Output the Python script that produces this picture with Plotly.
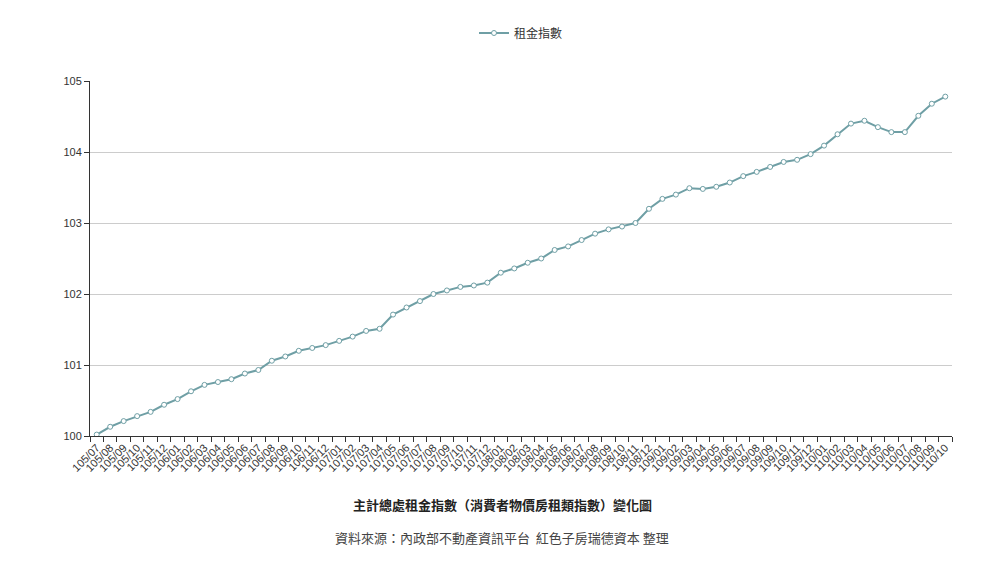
import plotly.graph_objects as go

# 月份（民國年/月）
months = []
for yr, m_from, m_to in [(105, 7, 12), (106, 1, 12), (107, 1, 12), (108, 1, 12), (109, 1, 12), (110, 1, 10)]:
    for m in range(m_from, m_to + 1):
        months.append("%d/%02d" % (yr, m))

rent_index = [
    100.02, 100.13, 100.21, 100.28, 100.34, 100.44,
    100.52, 100.63, 100.72, 100.76, 100.80, 100.88, 100.93, 101.06, 101.12, 101.20, 101.24, 101.28,
    101.34, 101.40, 101.48, 101.51, 101.71, 101.81, 101.90, 102.00, 102.05, 102.10, 102.12, 102.16,
    102.30, 102.36, 102.44, 102.50, 102.62, 102.67, 102.76, 102.85, 102.91, 102.95, 103.00, 103.20,
    103.34, 103.40, 103.49, 103.48, 103.51, 103.57, 103.66, 103.72, 103.79, 103.86, 103.89, 103.97,
    104.09, 104.25, 104.40, 104.44, 104.35, 104.28, 104.28, 104.51, 104.68, 104.78,
]

line_color = "#6f9fa5"
font_name = "Liberation Sans, Noto Sans CJK TC, sans-serif"

fig = go.Figure()
fig.add_trace(go.Scatter(
    x=months, y=rent_index, mode="lines+markers", name="租金指數",
    line=dict(color=line_color, width=2),
    marker=dict(symbol="circle", size=5, color="white", line=dict(color=line_color, width=1)),
))

# page body has an 8px margin, so offsets are shifted by that
fig.update_layout(
    width=1004, height=564,
    margin=dict(l=82, r=60, t=72, b=136),
    paper_bgcolor="white", plot_bgcolor="white",
    font=dict(family=font_name, size=12, color="#333"),
    showlegend=True,
    legend=dict(orientation="h", x=0.5, xanchor="center", y=1.132, yanchor="middle",
                font=dict(size=12, color="#333")),
)

fig.update_xaxes(
    type="category", range=[-0.5, len(months) - 0.5], automargin=False,
    tickmode="linear", dtick=1,
    tickson="boundaries", ticks="outside", ticklen=5, tickcolor="#333",
    tickangle=-45, tickfont=dict(size=11, color="#333"),
    showline=True, linecolor="#333", linewidth=1, showgrid=False,
)
fig.update_yaxes(
    range=[100, 105], dtick=1, automargin=False,
    ticks="outside", ticklen=5, tickcolor="#333",
    tickfont=dict(size=11, color="#333"),
    showline=True, linecolor="#333", linewidth=1,
    showgrid=True, gridcolor="#cccccc", zeroline=False,
)

fig.add_annotation(text="<b>主計總處租金指數（消費者物價房租類指數）變化圖</b>",
                   xref="paper", yref="paper", x=0.478, y=-0.194, yanchor="middle", showarrow=False,
                   font=dict(size=13, color="#222", family="Noto Sans CJK TC"))
fig.add_annotation(text="資料來源：內政部不動產資訊平台  紅色子房瑞德資本 整理",
                   xref="paper", yref="paper", x=0.478, y=-0.287, yanchor="middle", showarrow=False,
                   font=dict(size=13, color="#444", family="Noto Sans CJK TC"))

fig.write_html("out.html")
